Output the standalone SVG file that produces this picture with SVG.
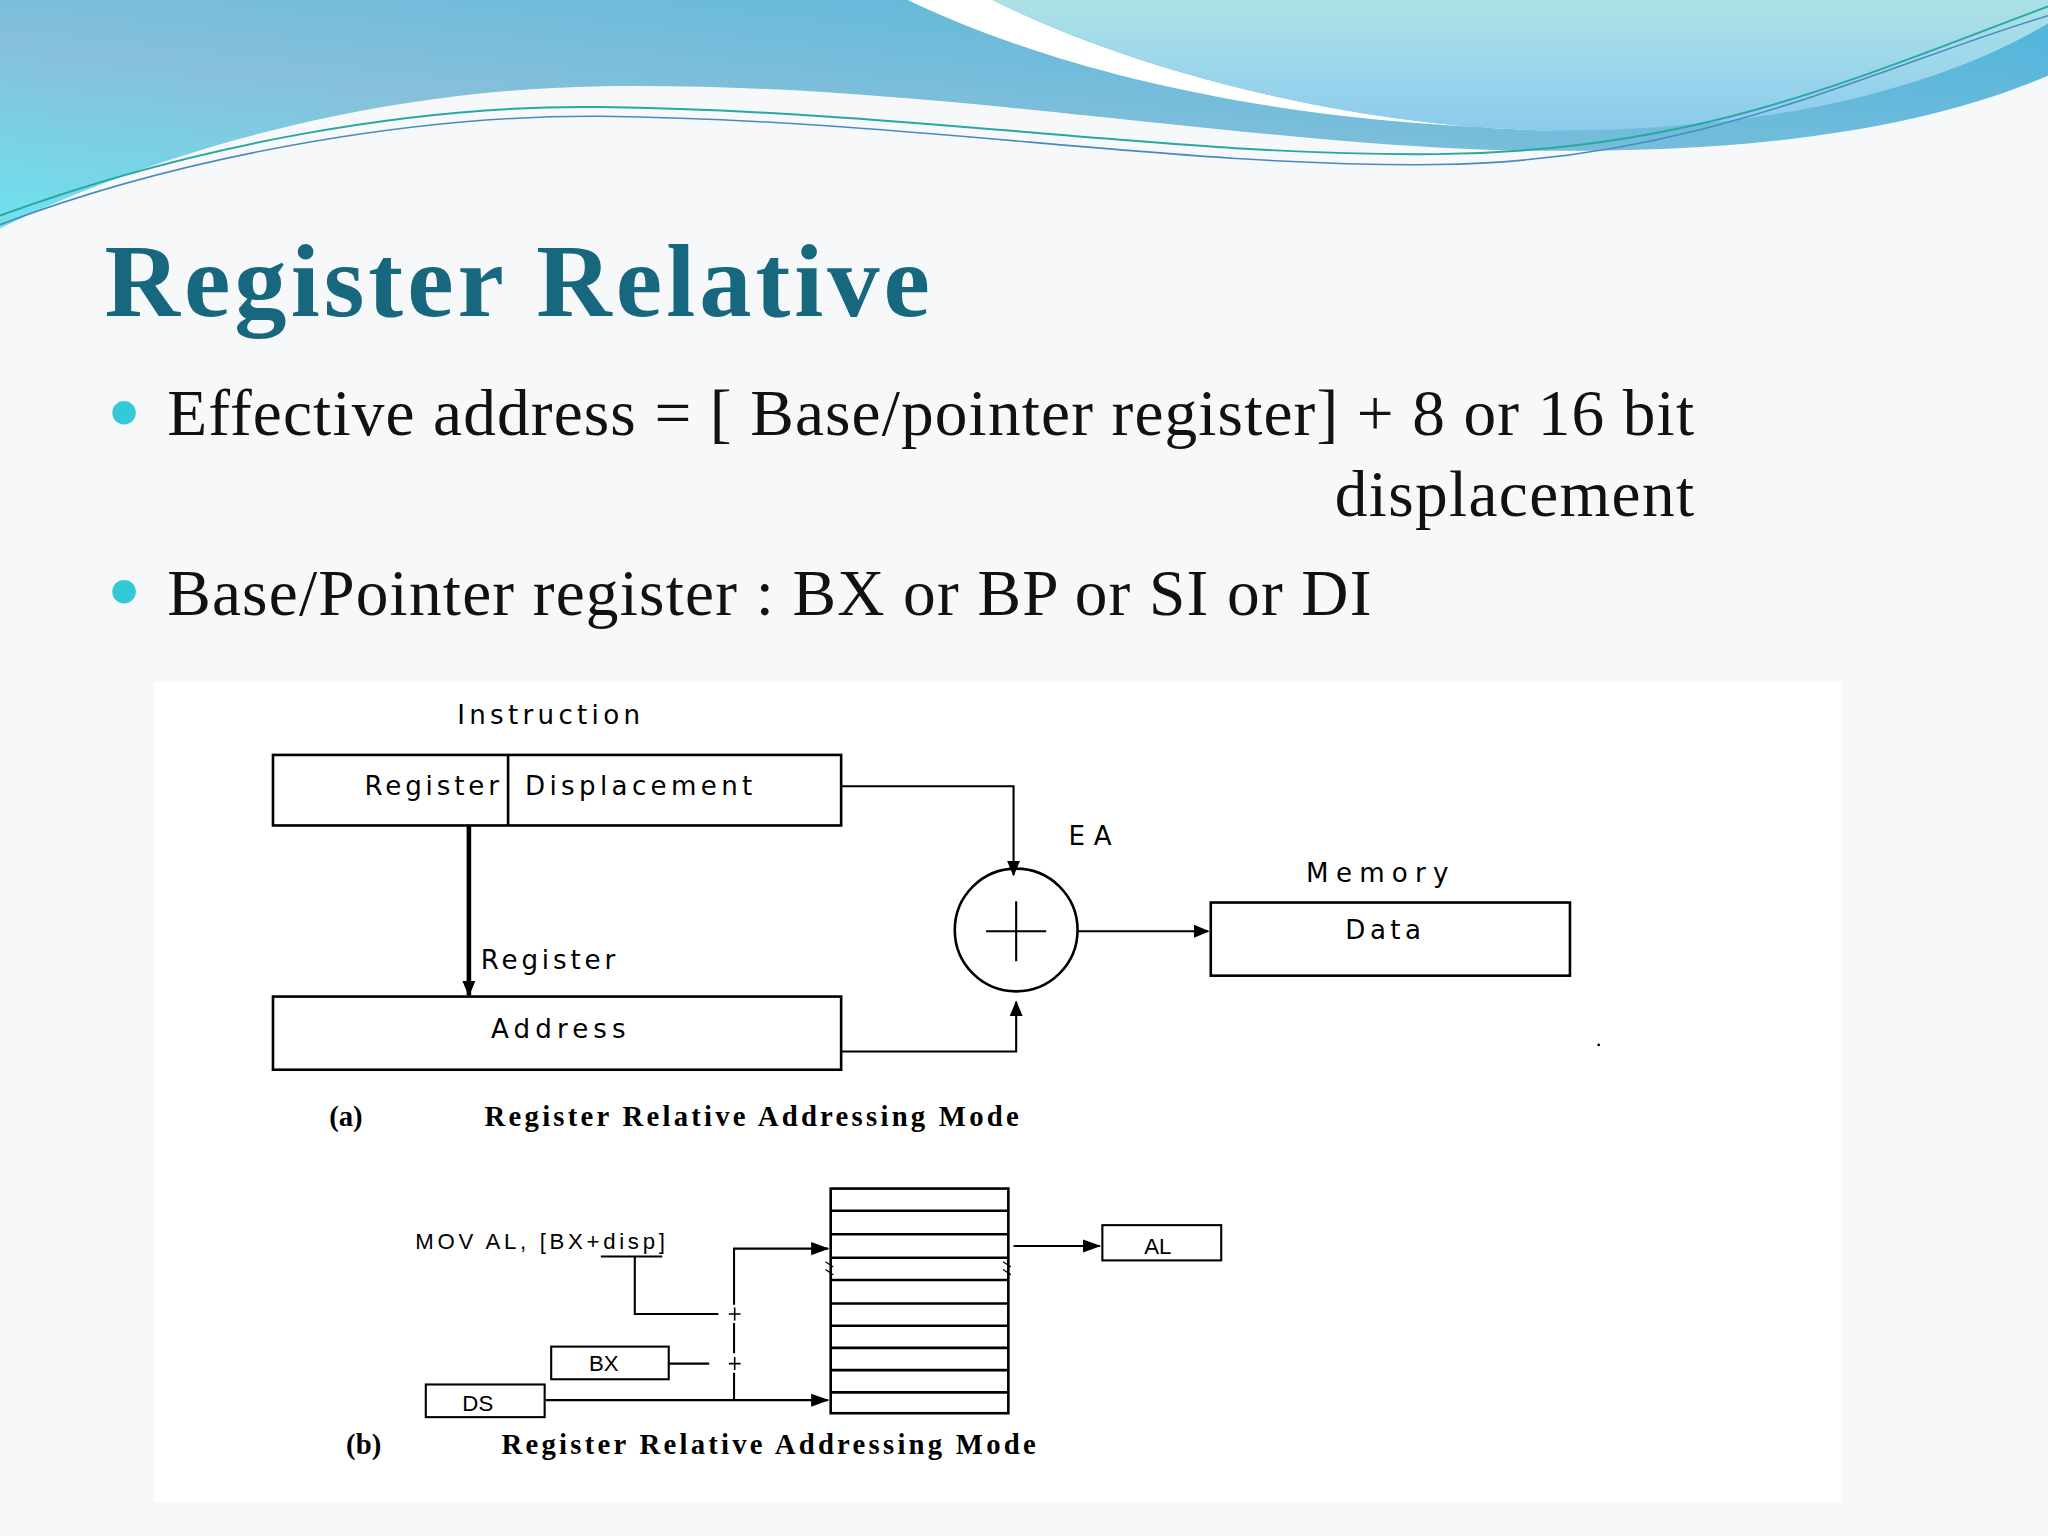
<svg xmlns="http://www.w3.org/2000/svg" width="2048" height="1536" viewBox="0 0 2048 1536">
<defs>
<linearGradient id="gb" x1="0" y1="1" x2="1" y2="0"><stop offset="0" stop-color="#6fe2ee"/><stop offset="0.4" stop-color="#86c0da"/><stop offset="1" stop-color="#4cb4dc"/></linearGradient>
<linearGradient id="gl" x1="0" y1="0" x2="0" y2="1"><stop offset="0" stop-color="#ace2e6"/><stop offset="1" stop-color="#8ccbee"/></linearGradient>
<marker id="ah" markerWidth="12" markerHeight="12" refX="11" refY="6" orient="auto" markerUnits="userSpaceOnUse"><path d="M0,1 L12,6 L0,11 Z" fill="#000"/></marker>
<marker id="ab" markerWidth="14" markerHeight="12" refX="13" refY="6" orient="auto" markerUnits="userSpaceOnUse"><path d="M0,1 L14,6 L0,11 Z" fill="#000"/></marker>
</defs>
<style>
.t{font-family:"Liberation Serif",serif}
.s{font-family:"DejaVu Sans",sans-serif;font-size:20px;fill:#000}
.n{font-family:"Liberation Sans",sans-serif;font-size:17px;fill:#000}
.c{font-family:"Liberation Serif",serif;font-weight:bold;font-size:22px;fill:#000}
.b{fill:none;stroke:#000;stroke-width:2}
.l{fill:none;stroke:#000;stroke-width:1.6}
</style>
<rect width="2048" height="1536" fill="#f7f8fa"/>
<g transform="scale(1.306122)">
<g id="header">
<path d="M0,0 H1568 V58 C1450,108 1300,118 1150,115 C950,110 700,62 460,66 C250,70 80,135 0,175 Z" fill="url(#gb)"/>
<path d="M695,0 L760,0 C880,60 1050,98 1190,100 L1150,98 C950,90 800,50 695,0 Z" fill="#fff"/>
<path d="M760,0 H1568 V18 C1480,70 1350,100 1190,100 C1050,98 880,60 760,0 Z" fill="url(#gl)"/>
<path d="M0,165 C150,110 320,80 460,82 C700,85 900,120 1100,118 C1300,116 1420,60 1568,5" fill="none" stroke="#2aa7a0" stroke-width="1.5"/>
<path d="M0,172 C150,115 330,88 460,89 C700,92 900,128 1100,126 C1300,124 1440,50 1568,12" fill="none" stroke="#4a8ac0" stroke-width="1.2"/>
</g>
<g id="text">
<text x="80" y="242" class="t" font-size="80" font-weight="bold" fill="#17687e" textLength="632">Register Relative</text>
<circle cx="95" cy="316" r="9" fill="#33c9d6"/>
<circle cx="95" cy="453" r="9" fill="#33c9d6"/>
<text x="128" y="333" class="t" font-size="50" fill="#111" textLength="1169">Effective address = [ Base/pointer register] + 8 or 16 bit</text>
<text x="1022" y="395" class="t" font-size="50" fill="#111" textLength="275">displacement</text>
<text x="128" y="471" class="t" font-size="50" fill="#111" textLength="922">Base/Pointer register : BX or BP or SI or DI</text>
</g>
<rect x="118" y="522" width="1292" height="628" fill="#fff"/>
<g id="instruction">
<text x="350" y="554" class="s" textLength="140">Instruction</text>
<rect x="209" y="578" width="435" height="54" class="b"/>
<line x1="389" y1="578" x2="389" y2="632" class="b"/>
<text x="279" y="609" class="s" textLength="103">Register</text>
<text x="402" y="609" class="s" textLength="174">Displacement</text>
</g>
<g id="adder"><circle cx="778" cy="712" r="47" class="b"/><path d="M755,713 H801 M778,690 V736" class="l"/></g>
<text x="818" y="647" class="s" textLength="33">EA</text>
<g id="memory"><text x="1000" y="675" class="s" textLength="109">Memory</text><rect x="927" y="691" width="275" height="56" class="b"/><text x="1030" y="719" class="s" textLength="58">Data</text></g>
<g id="address"><rect x="209" y="763" width="435" height="56" class="b"/><text x="376" y="795" class="s" textLength="103">Address</text></g>
<text x="368" y="742" class="s" textLength="103">Register</text>
<circle cx="1224" cy="800" r="1" fill="#000"/>
<g id="connectors-a">
<path d="M644,602 H776 V670" class="l" marker-end="url(#ah)"/>
<path d="M825,713 H925" class="l" marker-end="url(#ah)"/>
<path d="M359,632 V762" fill="none" stroke="#000" stroke-width="3.5" marker-end="url(#ah)"/>
<path d="M644,805 H778 V767" class="l" marker-end="url(#ah)"/>
</g>
<text x="252" y="862" class="c">(a)</text>
<text x="371" y="862" class="c" textLength="409">Register Relative Addressing Mode</text>
<g id="stack">
<rect x="636" y="910" width="136" height="172" class="b"/>
<path d="M636,927H772M636,945H772M636,963H772M636,980H772M636,998H772M636,1015H772M636,1032H772M636,1049H772M636,1066H772" class="b"/>
<path d="M632,966 l6,4 M632,972 l6,4 M768,966 l6,4 M768,972 l6,4" stroke="#000" stroke-width="1"/>
</g>
<text x="318" y="956" class="n" textLength="191">MOV  AL, [BX+disp]</text>
<g id="bx"><rect x="422" y="1031" width="90" height="25" class="l"/><text x="451" y="1050" class="n">BX</text></g>
<g id="ds"><rect x="326" y="1060" width="91" height="25" class="l"/><text x="354" y="1080" class="n">DS</text></g>
<g id="al"><rect x="844" y="938" width="91" height="27" class="l"/><text x="876" y="960" class="n">AL</text></g>
<g id="connectors-b">
<path d="M460,962 H507 M486,962 V1006 H550" class="l"/>
<path d="M512,1044 H543" class="l"/>
<path d="M562,1072 V1051 M562,1036 V1013 M562,999 V956 H634" class="l" marker-end="url(#ab)"/>
<path d="M418,1072 H634" class="l" marker-end="url(#ab)"/>
<path d="M776,954 H842" class="l" marker-end="url(#ab)"/>
<path d="M558,1006 h9 M562.5,1001 v10 M558,1044 h9 M562.5,1039 v10" stroke="#000" stroke-width="1.2"/>
</g>
<text x="265" y="1113" class="c">(b)</text>
<text x="384" y="1113" class="c" textLength="409">Register Relative Addressing Mode</text>
</g>
</svg>
